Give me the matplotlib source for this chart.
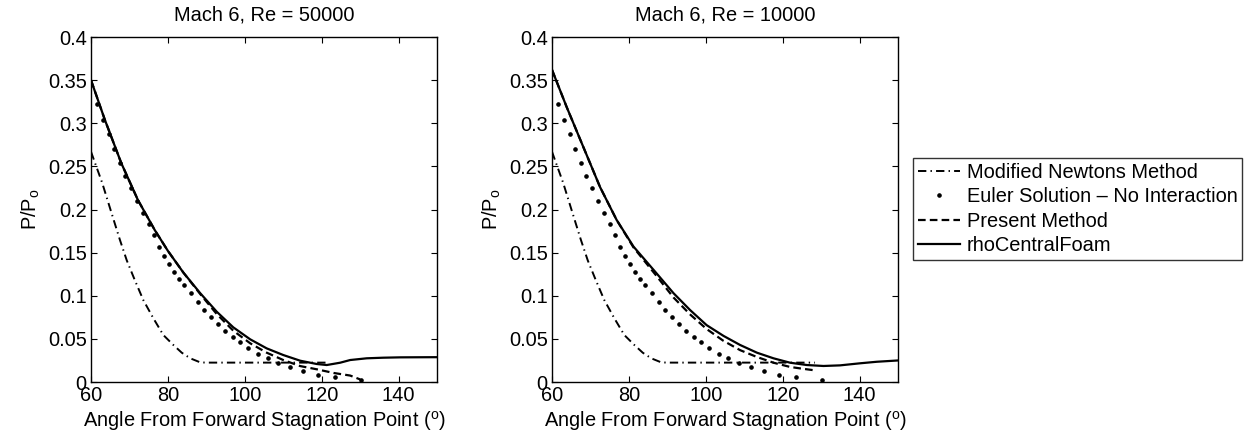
import matplotlib
matplotlib.use('Agg')
import matplotlib.pyplot as plt
from matplotlib.ticker import FuncFormatter

plt.rcParams['font.family'] = ['Liberation Sans', 'DejaVu Sans']
plt.rcParams['mathtext.default'] = 'regular'
plt.rcParams['lines.scale_dashes'] = False

# Modified Newtons method (same curve on both plots, flat part ends differently)
newton_x = [60, 60.8, 62.9, 65.4, 67.5, 69.3, 71.4, 73.6, 76.2, 78.8, 81.4, 83.6, 85.8, 88.4, 90, 100, 110]
newton_y = [0.267, 0.257, 0.231, 0.195, 0.165, 0.141, 0.118, 0.095, 0.074, 0.0545, 0.043, 0.034,
            0.0275, 0.0228, 0.0225, 0.0225, 0.0225]
newton_end_50k = 121.0
newton_end_10k = 128.4

# Euler solution - no interaction (discrete points, same on both plots)
euler_x = [61.6, 63.1, 64.6, 66.0, 67.5, 68.9, 70.5, 72.0, 73.5, 75.0, 76.3, 77.7, 79.0, 80.3,
           81.6, 82.9, 84.3, 86.1, 87.7, 89.4, 91.2, 93.0, 94.9, 96.8, 98.8, 100.9, 103.4,
           105.9, 108.6, 111.8, 115.2, 119.1, 123.5, 130.2]
euler_y = [0.322, 0.304, 0.287, 0.270, 0.254, 0.239, 0.2245, 0.210, 0.196, 0.183, 0.170, 0.157,
           0.146, 0.137, 0.128, 0.120, 0.112, 0.103, 0.093, 0.084, 0.075, 0.067, 0.0595, 0.0525,
           0.046, 0.040, 0.033, 0.0275, 0.022, 0.017, 0.0124, 0.0085, 0.0058, 0.0023]

# Re = 50000
present_50k_x = [60, 63.6, 67.9, 72.2, 76.6, 80.0, 84.0, 88.4, 92.7, 97.0, 101.4, 105.7, 110.0,
                 114.4, 119.0, 123.1, 127.4, 130]
present_50k_y = [0.350, 0.304, 0.2535, 0.211, 0.176, 0.152, 0.127, 0.102, 0.0788, 0.0595, 0.0449,
                 0.034, 0.0255, 0.0185, 0.0145, 0.0105, 0.0075, 0.003]
rho_50k_x = [60, 63.6, 67.9, 72.2, 76.6, 80.0, 84.0, 88.4, 92.7, 97.0, 101.4, 105.7, 110.0, 114.4,
             118.7, 121.3, 124.8, 127.4, 131.7, 136.0, 140.4, 145, 150]
rho_50k_y = [0.350, 0.304, 0.2535, 0.211, 0.176, 0.152, 0.127, 0.103, 0.0815, 0.0634, 0.0495,
             0.039, 0.0313, 0.0247, 0.0209, 0.0197, 0.0224, 0.0255, 0.0275, 0.0282, 0.0286,
             0.0287, 0.0288]

# Re = 10000
present_10k_x = [60, 63.8, 68.1, 72.5, 76.8, 81.2, 87.0, 91.6, 96.0, 100.2, 104.5, 108.9, 113.3,
                 117.6, 121.9, 125.0, 128.4]
present_10k_y = [0.362, 0.319, 0.273, 0.226, 0.188, 0.156, 0.124, 0.098, 0.078, 0.0615, 0.048,
                 0.037, 0.029, 0.0224, 0.0175, 0.0155, 0.0135]
rho_10k_x = [60, 63.8, 68.1, 72.5, 76.8, 81.2, 87.0, 91.6, 95.9, 100.2, 104.6, 108.9, 113.3, 117.6,
             121.9, 126.3, 130.6, 134.9, 140.1, 144.5, 150]
rho_10k_y = [0.362, 0.319, 0.273, 0.226, 0.188, 0.157, 0.127, 0.103, 0.0835, 0.066, 0.0535, 0.043,
             0.034, 0.0275, 0.0224, 0.0197, 0.0186, 0.0193, 0.0217, 0.0235, 0.025]

titles = ['Mach 6, Re = 50000', 'Mach 6, Re = 10000']
labels = ['Modified Newtons Method', 'Euler Solution – No Interaction', 'Present Method',
          'rhoCentralFoam']

fig = plt.figure(figsize=(12.52, 4.42), dpi=100)
ax1 = fig.add_axes([0.0727, 0.1357, 0.2764, 0.7805])
ax2 = fig.add_axes([0.4409, 0.1357, 0.2764, 0.7805])

panels = [
    (ax1, newton_end_50k, present_50k_x, present_50k_y, rho_50k_x, rho_50k_y),
    (ax2, newton_end_10k, present_10k_x, present_10k_y, rho_10k_x, rho_10k_y),
]

fs = 14.4
handles = None
for i, (ax, nend, px, py, rx, ry) in enumerate(panels):
    nx = newton_x + [nend]
    ny = newton_y + [newton_y[-1]]
    h1, = ax.plot(nx, ny, color='k', lw=1.4, dashes=(6, 3, 1, 3))
    h2, = ax.plot(euler_x, euler_y, color='k', ls='none', marker='o', ms=2.3)
    h3, = ax.plot(px, py, color='k', lw=1.6, dashes=(5.5, 3))
    h4, = ax.plot(rx, ry, color='k', lw=1.6)
    handles = [h1, h2, h3, h4]

    ax.set_xlim(60, 150)
    ax.set_ylim(0, 0.4)
    ax.set_xticks([60, 80, 100, 120, 140])
    ax.set_yticks([0, 0.05, 0.1, 0.15, 0.2, 0.25, 0.3, 0.35, 0.4])
    ax.yaxis.set_major_formatter(FuncFormatter(lambda v, p: '%g' % round(v, 2)))
    ax.tick_params(direction='in', top=True, right=True, length=4, width=0.8,
                   labelsize=fs)
    ax.tick_params(axis='y', pad=3)
    ax.tick_params(axis='x', pad=3)
    for s in ax.spines.values():
        s.set_linewidth(1.0)
    ax.set_title(titles[i], fontsize=fs, pad=12)
    ax.set_xlabel('Angle From Forward Stagnation Point ($^o$)', fontsize=fs, labelpad=3)
    ax.set_ylabel('P/P$_o$', fontsize=fs, labelpad=4)

leg = fig.legend(handles, labels, loc='upper left', bbox_to_anchor=(0.729, 0.6425),
                 fontsize=fs, frameon=True, fancybox=False, edgecolor='k',
                 handlelength=2.1, handletextpad=0.35, labelspacing=0.27,
                 borderpad=0.25, borderaxespad=0, numpoints=1)
leg.get_frame().set_linewidth(1.0)

fig.savefig('out.png', dpi=100)
